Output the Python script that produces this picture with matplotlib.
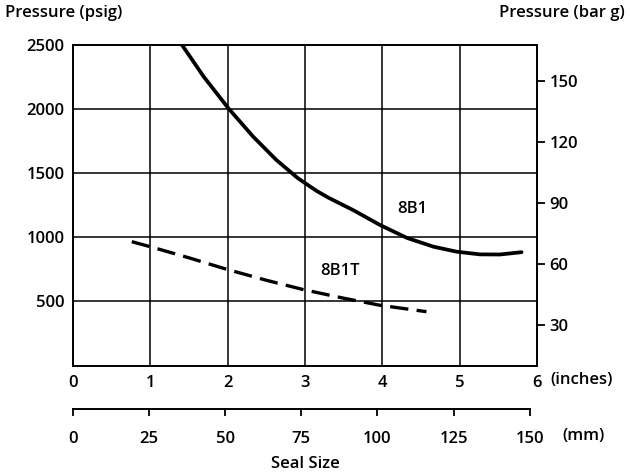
import matplotlib
matplotlib.use('Agg')
import matplotlib.pyplot as plt

plt.rcParams['font.family'] = ['Open Sans', 'DejaVu Sans']

# 数据
b1_size = [1.41, 1.69, 2.01, 2.33, 2.63, 2.91, 3.15, 3.30, 3.63, 3.97,
           4.32, 4.66, 4.96, 5.26, 5.52, 5.80]
b1_psi = [2500, 2253, 2006, 1785, 1603, 1460, 1362, 1310, 1210, 1096,
          995, 927, 888, 867, 866, 884]

b1t_size = [0.76, 1.04, 1.50, 1.99, 2.50, 2.98, 3.50, 3.97, 4.57]
b1t_psi = [966, 920, 840, 750, 665, 592, 525, 470, 420]

psi_ticks = [500, 1000, 1500, 2000, 2500]
bar_ticks = [30, 60, 90, 120, 150]
inch_ticks = [0, 1, 2, 3, 4, 5, 6]
mm_ticks = [0, 25, 50, 75, 100, 125, 150]

FS = 12
FW = 'semibold'

fig = plt.figure(figsize=(6.3, 4.75), dpi=100)
ax = fig.add_axes([0.1159, 0.2305, 0.7365, 0.6747])

# 曲线
ax.plot(b1_size, b1_psi, color='black', lw=2.7, solid_capstyle='round')
ax.plot(b1t_size, b1t_psi, color='black', lw=2.4, dashes=(5.5, 2.5),
        dash_capstyle='butt')
ax.text(4.39, 1222, '8B1', fontsize=FS, fontweight=FW, ha='center', va='center')
ax.text(3.45, 738, '8B1T', fontsize=FS, fontweight=FW, ha='center', va='center')

ax.set_xlim(0, 6)
ax.set_ylim(0, 2500)
ax.set_xticks(inch_ticks)
ax.set_yticks(psi_ticks)
ax.grid(True, color='black', lw=1.1)
ax.set_axisbelow(True)
for s in ax.spines.values():
    s.set_linewidth(1.4)
ax.tick_params(axis='both', length=0, labelsize=FS)
ax.tick_params(axis='x', pad=7)
ax.tick_params(axis='y', pad=6)
for lab in ax.get_xticklabels() + ax.get_yticklabels():
    lab.set_fontweight(FW)
ax.text(6.17, -0.045, '(inches)', fontsize=FS, fontweight=FW, ha='left', va='center',
        transform=ax.get_xaxis_transform())

# 右侧 bar g 轴
ax2 = ax.twinx()
ax2.set_ylim(10.3, 167.7)
ax2.set_yticks(bar_ticks)
ax2.tick_params(axis='y', direction='out', length=6, width=1.3, labelsize=FS, pad=3)
for lab in ax2.get_yticklabels():
    lab.set_fontweight(FW)
for s in ax2.spines.values():
    s.set_visible(False)

# mm 轴
ax3 = fig.add_axes([0.1159, 0.1389, 0.7365, 0.001])
ax3.set_xlim(0, 6 * 25.4)
ax3.set_xticks(mm_ticks)
ax3.set_yticks([])
for k in ['top', 'left', 'right']:
    ax3.spines[k].set_visible(False)
ax3.spines['bottom'].set_bounds(0, 150)
ax3.spines['bottom'].set_linewidth(1.4)
ax3.patch.set_visible(False)
ax3.tick_params(axis='x', direction='out', length=5, width=1.3, labelsize=FS, pad=11)
for lab in ax3.get_xticklabels():
    lab.set_fontweight(FW)

fig.text(0.893, 0.082, '(mm)', fontsize=FS, fontweight=FW, ha='left', va='center')
fig.text(0.008, 0.973, 'Pressure (psig)', fontsize=FS, fontweight=FW, ha='left', va='center')
fig.text(0.992, 0.973, 'Pressure (bar g)', fontsize=FS, fontweight=FW, ha='right', va='center')
fig.text(0.484, 0.024, 'Seal Size', fontsize=FS, fontweight=FW, ha='center', va='center')

fig.savefig('out.png', dpi=100, facecolor='white')
